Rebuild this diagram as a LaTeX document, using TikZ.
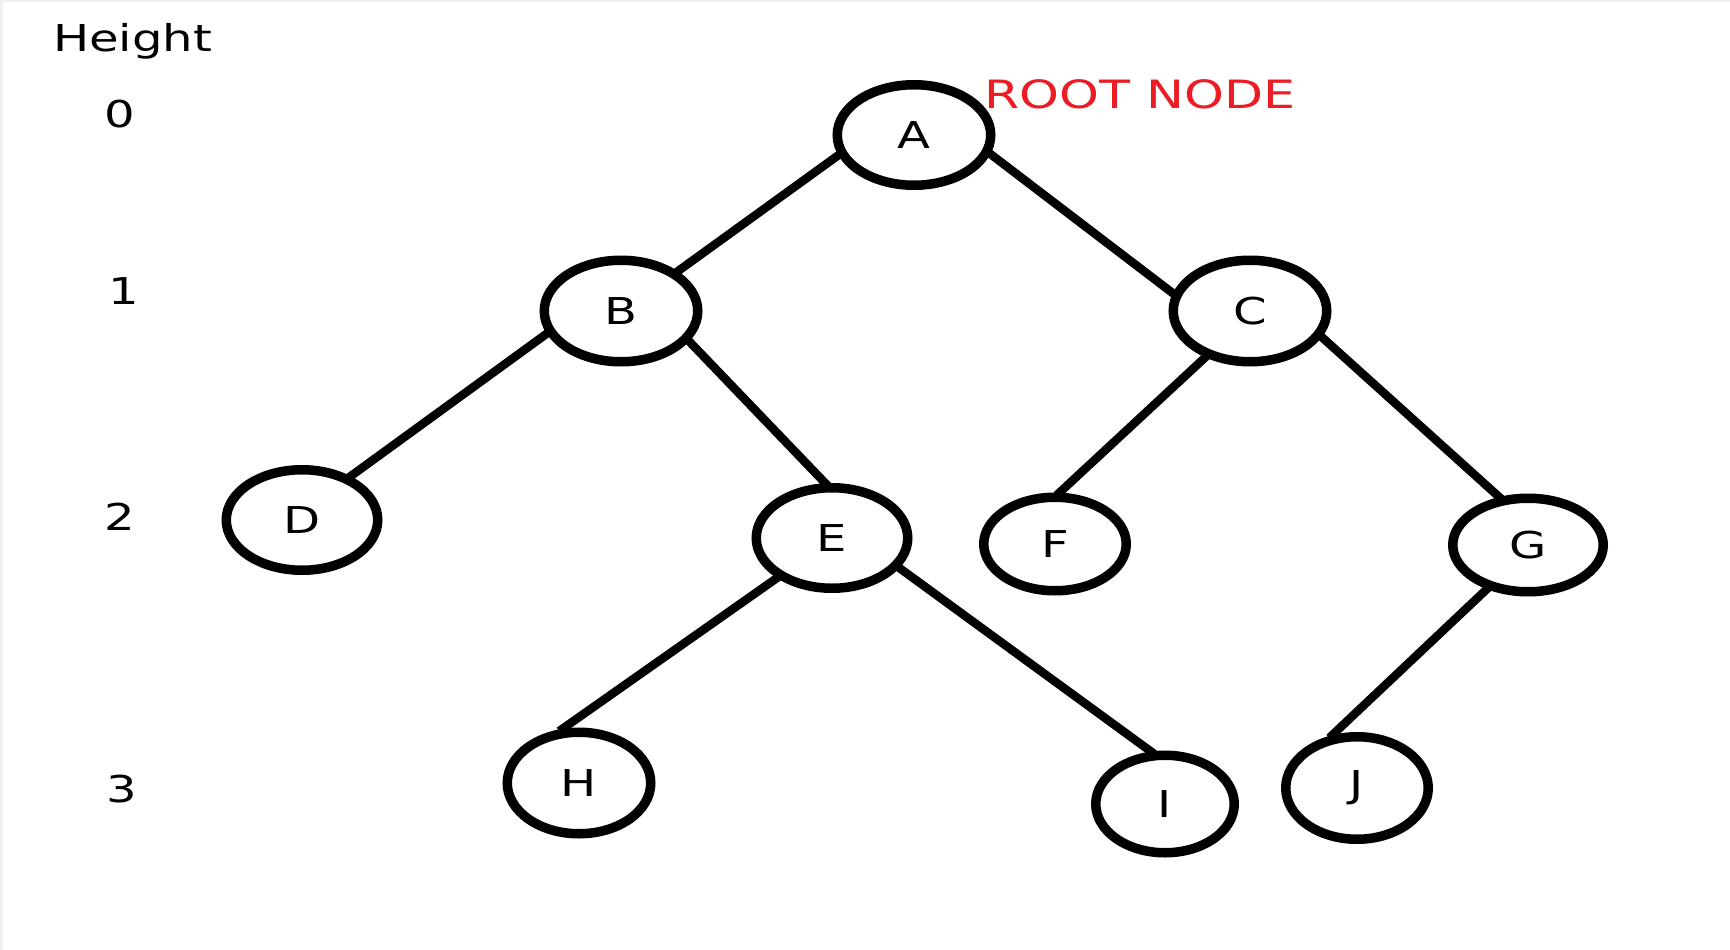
\documentclass[tikz,border=0pt]{standalone}
\usepackage{fontspec}
\setmainfont{DejaVu Sans}[FakeStretch=1.3]
\usetikzlibrary{shapes.geometric}
\definecolor{rootred}{RGB}{237,28,36}
\definecolor{rimgray}{RGB}{240,240,240}
\begin{document}
\begin{tikzpicture}[x=1pt,y=-1pt,
  vert/.style={ellipse, draw, line width=9.5pt, inner sep=0pt, font=\fontsize{37}{40}\selectfont},
  edge/.style={line width=8.5pt, shorten <=-4pt, shorten >=-4pt},
  txt/.style={inner sep=0pt, font=\fontsize{37}{40}\selectfont}]
\fill[rimgray] (0,0) rectangle (1730,950);
\fill[white] (3,2) rectangle (1730,950);
\useasboundingbox (0,0) rectangle (1730,950);

% level labels
\node[txt, anchor=base west] (height) at (53,52) {Height};
\node[txt, anchor=base] (h0) at (120,128) {0};
\node[txt, anchor=base] (h1) at (124,304) {1};
\node[txt, anchor=base] (h2) at (120,530) {2};
\node[txt, anchor=base] (h3) at (122,802) {3};
\node[txt, anchor=base west, text=rootred, font=\fontsize{39}{42}\selectfont] (root) at (984,108) {ROOT NODE};

% tree nodes
\node[vert, minimum width=153.5pt, minimum height=100.5pt] (A) at (914,135) {A};
\node[vert, minimum width=153.5pt, minimum height=101.5pt] (B) at (621,311) {B};
\node[vert, minimum width=153.5pt, minimum height=101.5pt] (C) at (1250,311) {C};
\node[vert, minimum width=151.5pt, minimum height=100.5pt] (D) at (302,520) {D};
\node[vert, minimum width=151.5pt, minimum height=100.5pt] (E) at (832,538) {E};
\node[vert, minimum width=142.5pt, minimum height=93.5pt] (F) at (1055,544) {F};
\node[vert, minimum width=150.5pt, minimum height=93.5pt] (G) at (1528,545) {G};
\node[vert, minimum width=143.5pt, minimum height=101.5pt] (H) at (579,783) {H};
\node[vert, minimum width=138.5pt, minimum height=97.5pt] (I) at (1165,804) {I};
\node[vert, minimum width=142.5pt, minimum height=102.5pt] (J) at (1357,788) {J};

% edges
\draw[edge] (A.195) -- (B.35);
\draw[edge] (A.346) -- (C.167);
\draw[edge] (B.197) -- (D.42);
\draw[edge] (B.336) -- (E.97);
\draw[edge] (C.226) -- (F.85);
\draw[edge] (C.340) -- (G.121);
\draw[edge] (E.216) -- (H.107);
\draw[edge] (E.336) -- (I.105);
\draw[edge] (G.227) -- (J.115);
\end{tikzpicture}
\end{document}
